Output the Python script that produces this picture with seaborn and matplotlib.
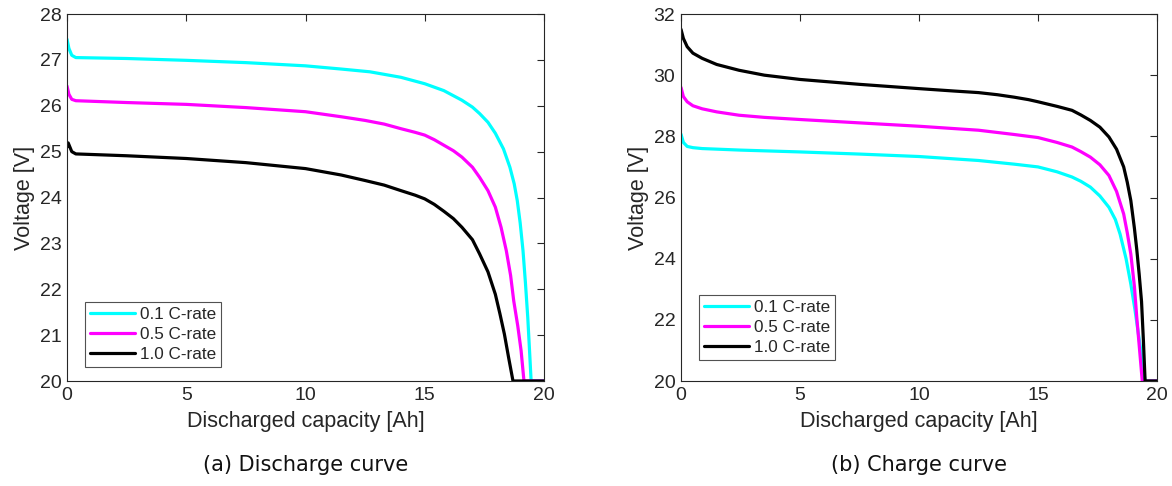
import matplotlib
matplotlib.use("Agg")
import matplotlib.pyplot as plt
import seaborn as sns
import pandas as pd

# Discharge curves: capacity [Ah] and terminal voltage [V] per C-rate
dis_cap_01 = [0.0, 0.08, 0.2, 0.37, 2.5, 5.0, 7.5, 10.0, 11.5, 12.7, 14.0, 15.0, 15.8, 16.56, 17.0,
              17.3, 17.65, 17.96, 18.3, 18.57, 18.75, 18.88, 19.0, 19.12, 19.22, 19.32, 19.4, 19.46, 20.0]
dis_v_01 = [27.45, 27.25, 27.1, 27.05, 27.03, 26.99, 26.94, 26.87, 26.8, 26.74, 26.62, 26.48, 26.33, 26.12, 25.97,
            25.83, 25.64, 25.4, 25.06, 24.66, 24.3, 23.93, 23.45, 22.84, 22.15, 21.38, 20.6, 20.0, 20.0]

dis_cap_05 = [0.0, 0.08, 0.2, 0.37, 2.5, 5.0, 7.5, 10.0, 11.5, 12.5, 13.3, 14.0, 14.6, 15.0, 15.4, 15.8, 16.2,
              16.56, 17.0, 17.3, 17.65, 17.96, 18.2, 18.42, 18.6, 18.73, 18.9, 19.04, 19.16, 20.0]
dis_v_05 = [26.43, 26.25, 26.14, 26.11, 26.07, 26.03, 25.96, 25.87, 25.76, 25.68, 25.6, 25.5, 25.42, 25.36, 25.26,
            25.14, 25.02, 24.88, 24.66, 24.44, 24.15, 23.79, 23.35, 22.84, 22.3, 21.75, 21.2, 20.66, 20.0, 20.0]

dis_cap_10 = [0.0, 0.05, 0.2, 0.37, 2.5, 5.0, 7.5, 10.0, 11.5, 12.5, 13.3, 14.0, 14.6, 15.0, 15.4, 15.8, 16.2,
              16.56, 17.0, 17.3, 17.65, 17.96, 18.15, 18.34, 18.52, 18.7, 20.0]
dis_v_10 = [25.1, 25.19, 25.0, 24.95, 24.91, 24.85, 24.76, 24.63, 24.49, 24.37, 24.27, 24.15, 24.05, 23.97, 23.85,
            23.7, 23.54, 23.35, 23.08, 22.77, 22.38, 21.89, 21.47, 21.02, 20.5, 20.0, 20.0]

# Charge curves
chg_cap_01 = [0.0, 0.1, 0.26, 0.5, 0.89, 2.5, 5.0, 7.5, 10.0, 12.5, 14.0, 15.0, 15.8, 16.43, 16.8,
              17.2, 17.6, 17.98, 18.25, 18.45, 18.7, 18.9, 19.07, 19.22, 19.37, 19.5, 20.0]
chg_v_01 = [28.07, 27.8, 27.67, 27.63, 27.6, 27.55, 27.49, 27.42, 27.34, 27.21, 27.09, 27.0, 26.84, 26.67, 26.53,
            26.34, 26.05, 25.68, 25.28, 24.8, 24.0, 23.17, 22.35, 21.53, 20.75, 20.0, 20.0]

chg_cap_05 = [0.0, 0.1, 0.26, 0.5, 0.89, 1.5, 2.44, 3.5, 5.0, 7.5, 10.0, 12.5, 14.0, 15.0, 15.8, 16.43,
              16.8, 17.2, 17.6, 17.98, 18.3, 18.6, 18.75, 18.9, 19.05, 19.15, 19.27, 19.38, 20.0]
chg_v_05 = [29.6, 29.3, 29.13, 29.0, 28.9, 28.8, 28.69, 28.62, 28.55, 28.44, 28.33, 28.2, 28.06, 27.96, 27.8, 27.65,
            27.5, 27.32, 27.07, 26.72, 26.2, 25.46, 24.85, 24.15, 23.1, 22.08, 21.0, 20.0, 20.0]

chg_cap_10 = [0.0, 0.1, 0.26, 0.5, 0.89, 1.5, 2.44, 3.5, 5.0, 7.5, 10.0, 11.5, 12.5, 13.3, 14.0, 14.6, 15.0, 15.8,
              16.43, 16.8, 17.2, 17.6, 17.98, 18.3, 18.6, 18.75, 18.9, 19.05, 19.15, 19.25, 19.35, 19.43, 19.5, 20.0]
chg_v_10 = [31.5, 31.2, 30.93, 30.72, 30.55, 30.35, 30.16, 30.0, 29.86, 29.7, 29.56, 29.48, 29.43, 29.36, 29.28,
            29.2, 29.13, 28.98, 28.85, 28.7, 28.52, 28.3, 27.98, 27.58, 27.0, 26.5, 25.9, 25.0, 24.3, 23.5, 22.6,
            21.3, 20.0, 20.0]

rate_labels = ["0.1 C-rate", "0.5 C-rate", "1.0 C-rate"]
rate_colors = ["#00FFFF", "#FF00FF", "#000000"]
captions = ["(a) Discharge curve", "(b) Charge curve"]
x_label = "Discharged capacity [Ah]"
y_label = "Voltage [V]"


def frame(caps, volts):
    rows = []
    for lab, c, v in zip(rate_labels, caps, volts):
        for ci, vi in zip(c, v):
            rows.append({"cap": ci, "volt": vi, "rate": lab})
    return pd.DataFrame(rows)


df_dis = frame([dis_cap_01, dis_cap_05, dis_cap_10], [dis_v_01, dis_v_05, dis_v_10])
df_chg = frame([chg_cap_01, chg_cap_05, chg_cap_10], [chg_v_01, chg_v_05, chg_v_10])

sns.set_style("white")
plt.rcParams["font.family"] = ["Liberation Sans", "DejaVu Sans"]
plt.rcParams["axes.edgecolor"] = "#262626"
plt.rcParams["axes.linewidth"] = 0.8
plt.rcParams["lines.solid_joinstyle"] = "round"

fig = plt.figure(figsize=(11.72, 4.86), dpi=100)
ax1 = fig.add_axes([67 / 1172, 1 - 381 / 486, 477 / 1172, 367 / 486])
ax2 = fig.add_axes([681 / 1172, 1 - 381 / 486, 476 / 1172, 367 / 486])

palette = dict(zip(rate_labels, rate_colors))
specs = [
    (ax1, df_dis, (20, 28), [20, 21, 22, 23, 24, 25, 26, 27, 28], 0.038),
    (ax2, df_chg, (20, 32), [20, 22, 24, 26, 28, 30, 32], 0.057),
]

for (ax, df, ylim, yticks, leg_y), cap in zip(specs, captions):
    sns.lineplot(data=df, x="cap", y="volt", hue="rate", palette=palette,
                 hue_order=rate_labels, sort=False, estimator=None,
                 linewidth=2.3, ax=ax)
    ax.set_xlim(0, 20)
    ax.set_ylim(*ylim)
    ax.set_xticks([0, 5, 10, 15, 20])
    ax.set_yticks(yticks)
    ax.tick_params(direction="in", length=5, width=0.8, top=True, right=True,
                   labelsize=14, colors="#262626", pad=4)
    for s in ax.spines.values():
        s.set_visible(True)
        s.set_color("#262626")
    ax.set_xlabel(x_label, fontsize=15.5, color="#262626", labelpad=5)
    ax.set_ylabel(y_label, fontsize=15.5, color="#262626", labelpad=3)
    leg = ax.legend(loc="lower left", bbox_to_anchor=(0.038, leg_y), fontsize=12.3,
                    frameon=True, fancybox=False, edgecolor="#262626",
                    handlelength=2.6, handletextpad=0.3, borderpad=0.3,
                    labelspacing=0.3, borderaxespad=0)
    leg.get_frame().set_linewidth(0.8)
    for h in leg.get_lines():
        h.set_linewidth(2.3)
    ax.text(0.5, -(465 - 381) / 367, cap, transform=ax.transAxes, ha="center", va="center",
            fontsize=15, family="DejaVu Sans", color="#111111")

fig.savefig("out.png", dpi=100)
